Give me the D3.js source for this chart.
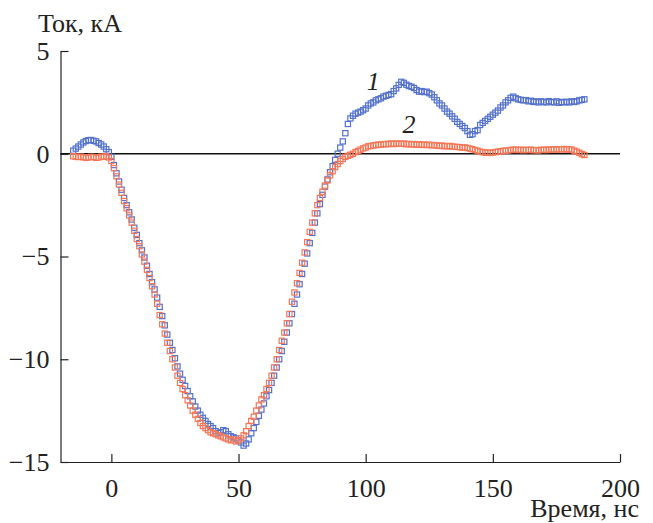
<!DOCTYPE html>
<html>
<head>
<meta charset="utf-8">
<script src="https://cdn.jsdelivr.net/npm/d3@7"></script>
<style>
  body { margin: 0; background: #fff; }
  text { font-family: "Liberation Serif", "Times New Roman", Times, "Tinos", "DejaVu Serif", "Noto Serif", serif; fill: #222; }
</style>
</head>
<body>
<div id="main"></div>
<script>
// time axis, ns (1 ns step from -15 to 186)
var tStart = -15;
var xTicks = [0, 50, 100, 150, 200];
var yTicks = [5, 0, -5, -10, -15];

// series 1 (blue), kA
var current1 = [
  0.15, 0.25, 0.35, 0.45, 0.55, 0.62, 0.66, 0.67, 0.63, 0.6, 0.52, 0.45, 0.35, 0.22, 0.08,
  -0.15, -0.55, -0.95, -1.35, -1.75, -2.15, -2.5, -2.85, -3.2, -3.6,
  -3.95, -4.35, -4.7, -5.05, -5.45, -5.85, -6.25, -6.6, -7.0, -7.45,
  -7.9, -8.35, -8.8, -9.2, -9.55, -9.95, -10.35, -10.7, -11.0, -11.3,
  -11.55, -11.8, -12.05, -12.3, -12.5, -12.7, -12.85, -13.0, -13.15, -13.25,
  -13.35, -13.5, -13.6, -13.55, -13.45, -13.5, -13.65, -13.75, -13.8, -13.85,
  -13.95, -14.05, -14.2, -14.1, -13.9, -13.6, -13.35, -13.05, -12.75, -12.45,
  -12.15, -11.8, -11.5, -11.15, -10.8, -10.4, -10.0, -9.6, -9.15, -8.7,
  -8.25, -7.8, -7.3, -6.85, -6.35, -5.85, -5.35, -4.85, -4.35, -3.85,
  -3.35, -2.9, -2.45, -2.0, -1.6, -1.25, -0.9, -0.6, -0.3, 0.0,
  0.3, 0.6, 1.0, 1.45, 1.72, 1.85, 1.95, 2.0, 2.05, 2.12,
  2.2, 2.35, 2.45, 2.5, 2.6, 2.65, 2.7, 2.78, 2.82, 2.86,
  2.9, 3.05, 3.18, 3.35, 3.5, 3.45, 3.36, 3.3, 3.26, 3.2,
  3.1, 3.02, 3.05, 3.0, 3.02, 2.95, 2.88, 2.75, 2.6, 2.45,
  2.35, 2.2, 2.05, 1.95, 1.82, 1.7, 1.55, 1.45, 1.35, 1.25,
  1.1, 0.92, 0.95, 1.1, 1.15, 1.4, 1.5, 1.6, 1.7, 1.8,
  1.9, 2.0, 2.1, 2.25, 2.35, 2.5, 2.6, 2.72, 2.78, 2.7,
  2.65, 2.62, 2.6, 2.61, 2.55, 2.58, 2.52, 2.55, 2.5, 2.55,
  2.52, 2.5, 2.56, 2.52, 2.5, 2.55, 2.48, 2.52, 2.5, 2.53,
  2.5, 2.55, 2.52, 2.55, 2.6, 2.62, 2.65
];

// series 2 (orange), kA
var current2 = [
  -0.12, -0.15, -0.16, -0.14, -0.17, -0.2, -0.18, -0.15, -0.16, -0.2, -0.18, -0.14, -0.15, -0.12, -0.18,
  -0.35, -0.7, -1.1, -1.5, -1.9, -2.3, -2.65, -3.0, -3.35, -3.75,
  -4.15, -4.5, -4.9, -5.25, -5.65, -6.05, -6.45, -6.85, -7.3, -7.85,
  -8.3, -8.75, -9.2, -9.6, -10.0, -10.4, -10.8, -11.15, -11.45, -11.75,
  -12.0, -12.25, -12.5, -12.7, -12.9, -13.1, -13.25, -13.35, -13.45, -13.55,
  -13.6, -13.65, -13.7, -13.75, -13.8, -13.85, -13.9, -13.95, -13.9, -14.0,
  -13.95, -13.85, -13.7, -13.5, -13.25, -13.0, -12.8, -12.5, -12.25, -11.95,
  -11.75, -11.45, -11.15, -10.8, -10.4, -10.0, -9.55, -9.1, -8.7, -8.25,
  -7.8, -7.2, -6.75, -6.3, -5.8, -5.3, -4.8, -4.3, -3.8, -3.35,
  -2.9, -2.5, -2.15, -1.85, -1.55, -1.3, -1.05, -0.85, -0.65, -0.5,
  -0.35, -0.25, -0.15, -0.1, -0.05, 0.0, 0.08, 0.14, 0.2, 0.26,
  0.3, 0.36, 0.38, 0.4, 0.42, 0.45, 0.44, 0.47, 0.46, 0.48,
  0.5, 0.47, 0.5, 0.49, 0.48, 0.5, 0.46, 0.48, 0.45, 0.47,
  0.44, 0.46, 0.43, 0.45, 0.42, 0.44, 0.41, 0.42, 0.4, 0.38,
  0.4, 0.37, 0.36, 0.38, 0.35, 0.34, 0.33, 0.32, 0.3, 0.31,
  0.28, 0.25, 0.22, 0.18, 0.15, 0.1, 0.08, 0.05, 0.06, 0.04,
  0.06, 0.08, 0.1, 0.12, 0.14, 0.15, 0.16, 0.18, 0.2, 0.2,
  0.18, 0.2, 0.17, 0.19, 0.18, 0.2, 0.17, 0.18, 0.16, 0.19,
  0.2, 0.18, 0.21, 0.2, 0.22, 0.2, 0.22, 0.21, 0.23, 0.2,
  0.22, 0.2, 0.15, 0.1, 0.05, -0.02, -0.06
];

var ctx = {
  w: 653,
  h: 523,
  left: 60.5, right: 620, top: 51, bottom: 462,
  blue: "#5472cc",
  orange: "#f47656",
  font: "'Liberation Serif', 'Times New Roman', Times, Tinos, 'DejaVu Serif', 'Noto Serif', serif"
};

var svg = d3.select("#main").append("svg")
  .attr("width", ctx.w)
  .attr("height", ctx.h);

var x = d3.scaleLinear().domain([-20, 200]).range([ctx.left, ctx.right]);
var y = d3.scaleLinear().domain([-15, 5]).range([ctx.bottom, ctx.top]);

var xAxis = svg.append("g")
  .attr("transform", "translate(0," + ctx.bottom + ")")
  .call(d3.axisBottom(x).tickValues(xTicks).tickSizeInner(-8).tickSizeOuter(0).tickPadding(17));
var yAxis = svg.append("g")
  .attr("transform", "translate(" + ctx.left + ",0)")
  .call(d3.axisLeft(y).tickValues(yTicks).tickSizeInner(-8).tickSizeOuter(0).tickPadding(11));

[xAxis, yAxis].forEach(function (g) {
  g.attr("font-family", ctx.font);
  g.selectAll("path, line").attr("stroke", "#222").attr("stroke-width", 1.2);
  g.selectAll("text").attr("font-size", 26).attr("fill", "#222");
});

// zero line
svg.append("line")
  .attr("x1", x(-20)).attr("x2", x(200))
  .attr("y1", y(0)).attr("y2", y(0))
  .attr("stroke", "#111").attr("stroke-width", 1.6);

var size = 5.2;
var drawSeries = function (values, color) {
  svg.append("g")
    .selectAll("rect")
    .data(values)
    .enter()
    .append("rect")
    .attr("x", function (d, i) { return x(tStart + i) - size / 2; })
    .attr("y", function (d) { return y(d) - size / 2; })
    .attr("width", size)
    .attr("height", size)
    .attr("fill", "none")
    .attr("stroke", color)
    .attr("stroke-width", 1.2);
};
drawSeries(current1, ctx.blue);
drawSeries(current2, ctx.orange);

// series labels
svg.append("text").attr("x", x(103)).attr("y", y(3.1))
  .attr("font-size", 26).attr("font-style", "italic").attr("text-anchor", "middle").text("1");
svg.append("text").attr("x", x(117)).attr("y", y(1.0))
  .attr("font-size", 26).attr("font-style", "italic").attr("text-anchor", "middle").text("2");

// axis titles
svg.append("text").attr("x", 38).attr("y", 32).attr("font-size", 26).text("Ток, кА");
svg.append("text").attr("x", 639).attr("y", 517).attr("font-size", 26)
  .attr("text-anchor", "end").text("Время, нс");
</script>
</body>
</html>
